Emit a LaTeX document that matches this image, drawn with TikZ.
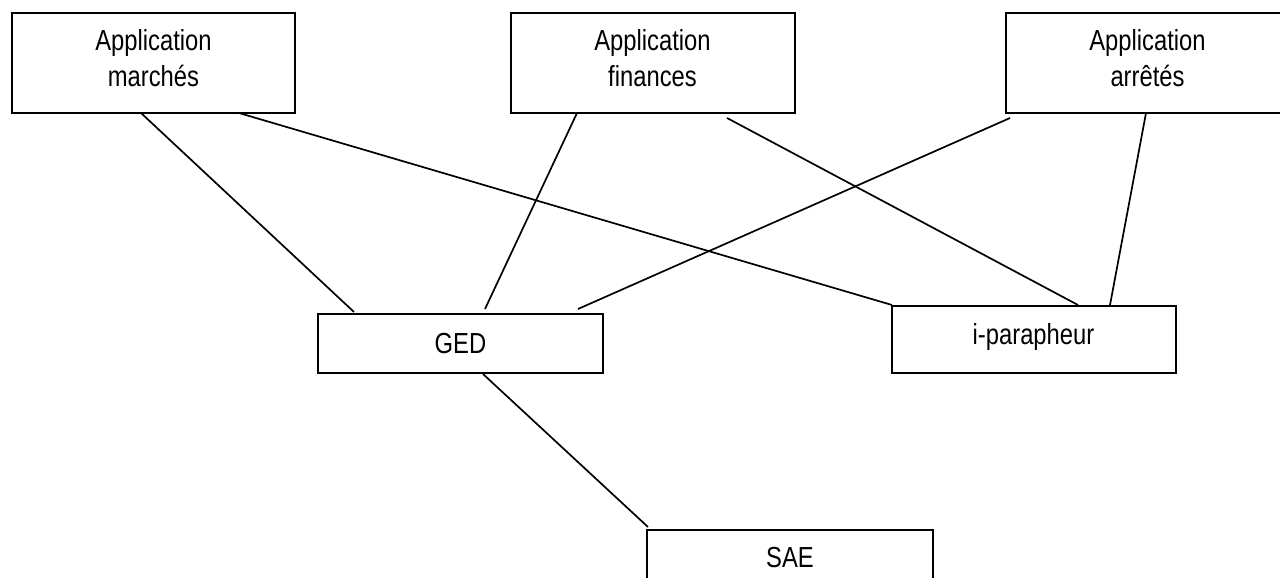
\documentclass[tikz,border=0pt]{standalone}
\usepackage{fontspec}
\setmainfont{Liberation Sans}[FakeStretch=0.82]
\begin{document}
\begin{tikzpicture}[x=1pt,y=-1pt,
  box/.style={draw, line width=2pt, fill=white, inner sep=0pt, font=\fontsize{29}{36}\selectfont},
  lbl/.style={inner sep=0pt, align=center, font=\fontsize{29}{36}\selectfont},
  link/.style={line width=1.7pt}]
\useasboundingbox (0,0) rectangle (1280,578);
\clip (0,0) rectangle (1280,578);
\fill[white] (0,0) rectangle (1280,578);
% boxes
\node[box, minimum width=283pt, minimum height=100pt] (marches) at (153.5,63) {};
\node[box, minimum width=284pt, minimum height=100pt] (finances) at (653,63) {};
\node[box, minimum width=283pt, minimum height=100pt] (arretes) at (1147.5,63) {};
\node[box, minimum width=285pt, minimum height=59pt] (ged) at (460.5,343.5) {GED};
\node[box, minimum width=284pt, minimum height=67pt] (ipar) at (1034,339.5) {};
\node[box, minimum width=286pt, minimum height=56pt] (sae) at (790,558) {SAE};
% labels
\node[lbl, anchor=north] (marchesT) at (153.5,29.2) {Application\\marchés};
\node[lbl, anchor=north] (financesT) at (652.5,29.2) {Application\\finances};
\node[lbl, anchor=north] (arretesT) at (1147.5,29.2) {Application\\arrêtés};
\node[lbl, anchor=base] (iparT) at (1033.5,344) {i-parapheur};
% connector ends
\coordinate (m1) at (141,113);  \coordinate (g1) at (354,312);
\coordinate (m2) at (239,113);  \coordinate (p1) at (892,305);
\coordinate (f1) at (577,113);  \coordinate (g2) at (485,309);
\coordinate (f2) at (727,118);  \coordinate (p2) at (1078,305);
\coordinate (a1) at (1010,118); \coordinate (g3) at (578,309);
\coordinate (a2) at (1146,113); \coordinate (p3) at (1110,305);
\coordinate (g4) at (483,374);  \coordinate (s1) at (648,527);
% connectors
\draw[link] (m1) -- (g1);
\draw[link] (m2) -- (p1);
\draw[link] (f1) -- (g2);
\draw[link] (f2) -- (p2);
\draw[link] (a1) -- (g3);
\draw[link] (a2) -- (p3);
\draw[link] (g4) -- (s1);
\end{tikzpicture}
\end{document}
